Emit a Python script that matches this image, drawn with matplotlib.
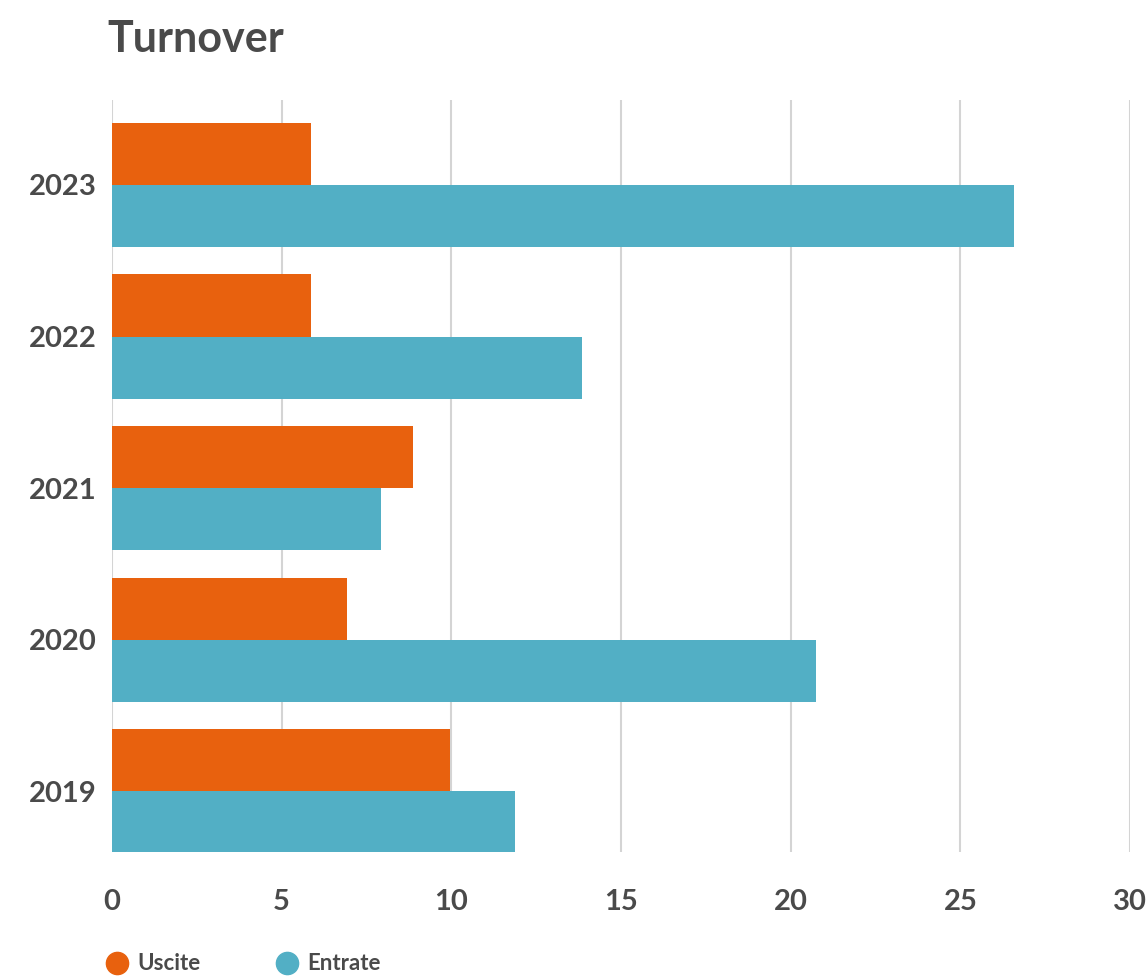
import matplotlib
matplotlib.use("Agg")
import matplotlib.pyplot as plt
from matplotlib.lines import Line2D
import numpy as np

years = ["2019", "2020", "2021", "2022", "2023"]
uscite = [9.95, 6.93, 8.87, 5.87, 5.87]
entrate = [11.87, 20.75, 7.93, 13.85, 26.57]
xticks = [0, 5, 10, 15, 20, 25, 30]

c_usc = "#E8610E"
c_ent = "#52AFC5"
txt = "#4a4a4a"

plt.rcParams['font.family'] = ['Lato', 'DejaVu Sans']

fig = plt.figure(figsize=(11.47, 9.76), dpi=100)
ax = fig.add_axes([112/1147, 1 - 852/976, (1130 - 112)/1147, (852 - 100)/976])

y = np.arange(len(years))
h = 0.41
ax.barh(y + h/2, uscite, height=h, color=c_usc, zorder=3)
ax.barh(y - h/2, entrate, height=h, color=c_ent, zorder=3)

ax.set_xlim(0, 30)
ax.set_ylim(-0.40, 4.56)
ax.set_xticks(xticks)
ax.set_xticklabels([str(t) for t in xticks])
ax.set_yticks(y)
ax.set_yticklabels(years)
ax.tick_params(axis='both', length=0, labelsize=21, labelcolor=txt)
ax.tick_params(axis='x', pad=27)
ax.tick_params(axis='y', pad=11)
for lab in ax.get_xticklabels() + ax.get_yticklabels():
    lab.set_fontweight('bold')
ax.grid(axis='x', color='#d4d4d4', linewidth=1.5, zorder=0)
ax.grid(axis='y', visible=False)
for s in ax.spines.values():
    s.set_visible(False)

fig.text(107/1147, 1 - 39/976, "Turnover", fontsize=31, fontweight='bold',
         color=txt, ha='left', va='center')

handles = [Line2D([], [], marker='o', linestyle='', markersize=16, color=c_usc),
           Line2D([], [], marker='o', linestyle='', markersize=16, color=c_ent)]
leg = fig.legend(handles, ["Uscite", "Entrate"], loc='center left',
                 bbox_to_anchor=(84/1147, 1 - 964/976), ncol=2, frameon=False,
                 handletextpad=0.3, columnspacing=3.3, handlelength=1.2,
                 prop={'size': 16, 'weight': 'bold'})
for t in leg.get_texts():
    t.set_color(txt)

fig.savefig("out.png", dpi=100, facecolor='white')
